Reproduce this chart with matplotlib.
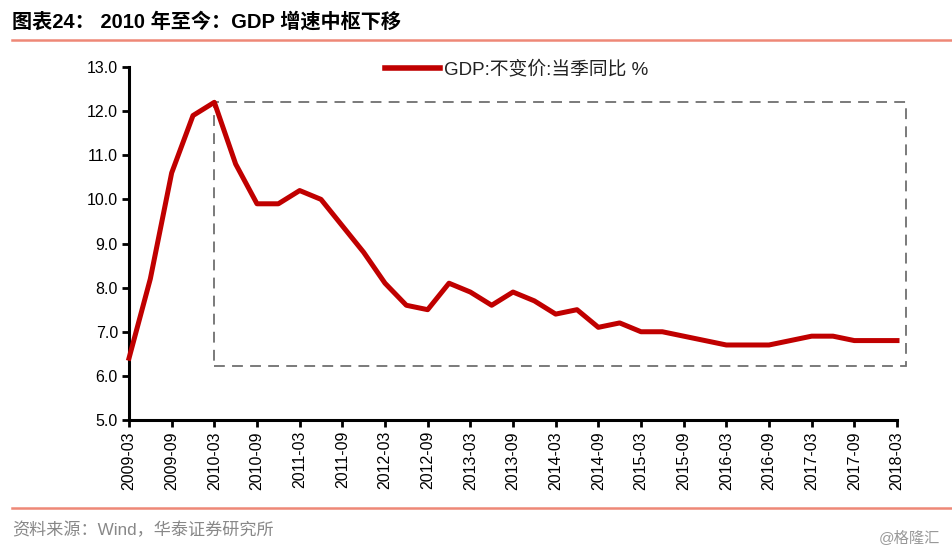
import matplotlib
matplotlib.use("Agg")
import matplotlib.pyplot as plt
from matplotlib.patches import Rectangle
from matplotlib.lines import Line2D

plt.rcParams['font.family'] = ['Liberation Sans', 'Noto Sans CJK SC', 'DejaVu Sans']

quarters = ["2009-03", "2009-06", "2009-09", "2009-12",
            "2010-03", "2010-06", "2010-09", "2010-12",
            "2011-03", "2011-06", "2011-09", "2011-12",
            "2012-03", "2012-06", "2012-09", "2012-12",
            "2013-03", "2013-06", "2013-09", "2013-12",
            "2014-03", "2014-06", "2014-09", "2014-12",
            "2015-03", "2015-06", "2015-09", "2015-12",
            "2016-03", "2016-06", "2016-09", "2016-12",
            "2017-03", "2017-06", "2017-09", "2017-12",
            "2018-03"]
gdp = [6.4, 8.2, 10.6, 11.9,
       12.2, 10.8, 9.9, 9.9,
       10.2, 10.0, 9.4, 8.8,
       8.1, 7.6, 7.5, 8.1,
       7.9, 7.6, 7.9, 7.7,
       7.4, 7.5, 7.1, 7.2,
       7.0, 7.0, 6.9, 6.8,
       6.7, 6.7, 6.7, 6.8,
       6.9, 6.9, 6.8, 6.8,
       6.8]
series_name = "GDP:不变价:当季同比 %"
title = "图表24： 2010 年至今：GDP 增速中枢下移"
source = "资料来源：Wind，华泰证券研究所"
box_start = "2010-03"
box_low, box_high = 6.22, 12.2

fig = plt.figure(figsize=(9.53, 5.52), dpi=100)
ax = fig.add_axes([129/953, 1-420/552, (897-129)/953, (420-67)/552])

x = list(range(len(quarters)))
ax.plot(x, gdp, color='#C00000', lw=3.6, solid_joinstyle='round', clip_on=False, zorder=3)

ax.set_xlim(0, len(quarters)-1)
ax.set_ylim(5.0, 13.0)
ax.set_yticks([5 + i for i in range(9)])
ax.set_yticklabels([f"{5+i:.1f}" for i in range(9)], fontsize=11.5)
ax.set_xticks(x[::2])
ax.set_xticklabels(quarters[::2], rotation=90, fontsize=11.5)
for s in ['top', 'right']:
    ax.spines[s].set_visible(False)
for s in ['left', 'bottom']:
    ax.spines[s].set_linewidth(2.2)
    ax.spines[s].set_color('black')
ax.tick_params(axis='both', direction='out', length=5, width=2.0, colors='black', pad=3)

# dashed box
bx0 = quarters.index(box_start)
rect = Rectangle((bx0, box_low), 36.42 - bx0, box_high - box_low, fill=False,
                 edgecolor='#707070', lw=1.3, ls=(0, (6, 4)), clip_on=False, zorder=2)
ax.add_patch(rect)

# legend
leg = ax.legend([Line2D([0], [0], color='#C00000', lw=4)], [series_name],
                loc='upper center', bbox_to_anchor=(0.505, 1.066), frameon=False,
                fontsize=13.5, handlelength=2.9, handletextpad=0.25)
for t in leg.get_texts():
    t.set_color('#222222')

# header
fig.text(12/953, 1-22/552, title, fontsize=14.5, fontweight='bold', va='center', ha='left',
         family=['Liberation Sans', 'Noto Sans CJK SC'])
fig.add_artist(Line2D([12/953, 1.0], [1-40/552, 1-40/552], color='#EE8877', lw=1.8))
fig.add_artist(Line2D([12/953, 1.0], [1-508/552, 1-508/552], color='#EE8877', lw=1.8))
fig.text(12/953, 1-530/552, source, fontsize=12.3, color='#888888', va='center', ha='left')
fig.text(940/953, 1-538/552, "@格隆汇", fontsize=11, color='#999999', va='center', ha='right')

fig.savefig("out.png", dpi=100)
